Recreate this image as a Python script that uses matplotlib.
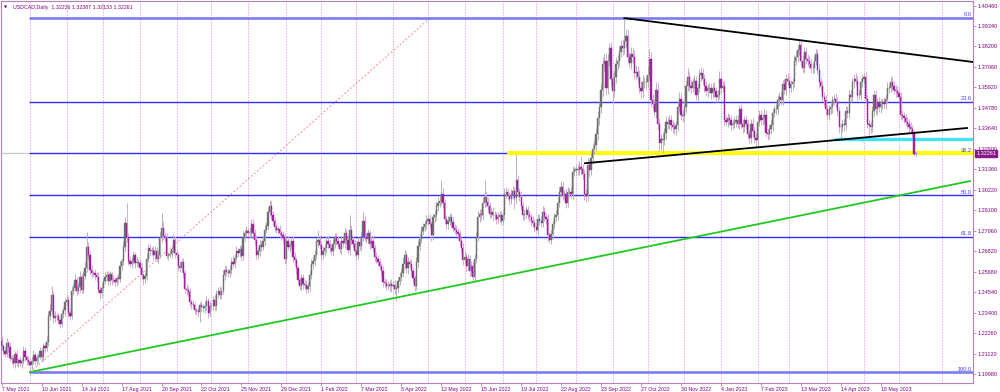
import numpy as np
import matplotlib.pyplot as plt

plt.rcParams['font.family'] = ['Liberation Sans', 'DejaVu Sans']

# daily closes, in pips above 1.0000 (2152 -> 1.2152)
close_2021 = [2152,
    2128, 2112, 2168, 2150, 2088, 2080, 2058, 2110, 2060, 2076,
    2058, 2070, 2128, 2092, 2077, 2063, 2048, 2072, 2106, 2070,
    2088, 2095, 2125, 2090, 2152, 2142, 2178, 2318, 2350, 2440,
    2310, 2322, 2318, 2296, 2278, 2330, 2352, 2398, 2412, 2340,
    2322, 2460, 2478, 2520, 2458, 2480, 2540, 2468, 2545, 2590,
    2705, 2660, 2575, 2562, 2558, 2548, 2540, 2468, 2448, 2478,
    2518, 2540, 2550, 2515, 2552, 2522, 2520, 2510, 2532, 2525,
    2598, 2625, 2705, 2840, 2760, 2625, 2612, 2628, 2660, 2615,
    2620, 2618, 2590, 2548, 2525, 2545, 2640, 2700, 2680, 2688,
    2660, 2682, 2640, 2662, 2758, 2810, 2765, 2758, 2655, 2660,
    2665, 2692, 2745, 2670, 2660, 2600, 2588, 2620, 2562, 2472,
    2468, 2452, 2400, 2388, 2380, 2352, 2348, 2342, 2382, 2370,
    2365, 2378, 2402, 2340, 2378, 2376, 2412, 2378, 2442, 2462,
    2440, 2462, 2548, 2575, 2568, 2560, 2578, 2622, 2612, 2642,
    2680, 2672, 2692, 2652, 2762, 2782, 2795, 2780, 2782, 2832,
    2780, 2745, 2662, 2682, 2718, 2705, 2740, 2800, 2822, 2900,
    2930, 2880, 2850, 2815, 2800, 2805, 2780, 2770, 2752, 2640]
close_2022 = [
    2740, 2705, 2715, 2735, 2650, 2630, 2585, 2520, 2490, 2530,
    2500, 2495, 2470, 2485, 2550, 2610, 2625, 2660, 2730, 2745,
    2715, 2660, 2680, 2700, 2740, 2720, 2700, 2680, 2720, 2760,
    2740, 2720, 2695, 2735, 2725, 2780, 2745, 2690, 2800, 2745,
    2720, 2680, 2660, 2730, 2710, 2760, 2850, 2760, 2750, 2780,
    2720, 2740, 2700, 2650, 2640, 2620, 2600, 2570, 2510, 2505,
    2490, 2485, 2500, 2485, 2495, 2470, 2475, 2515, 2540, 2560,
    2610, 2660, 2585, 2620, 2612, 2570, 2530, 2490, 2620, 2710,
    2750, 2795, 2815, 2830, 2850, 2860, 2830, 2770, 2870, 2880,
    2930, 2950, 2960, 3000, 2950, 2860, 2830, 2850, 2870, 2845,
    2810, 2800, 2790, 2775, 2735, 2700, 2630, 2650, 2600, 2640,
    2570, 2600, 2540, 2640, 2760, 2870, 2890, 2880, 2950, 2985,
    2955, 2930, 2890, 2900, 2880, 2880, 2860, 2870, 2880, 2850,
    2885, 3000, 3010, 2990, 2970, 2995, 3015, 2975, 3075, 3010,
    2985, 2930, 2880, 2890, 2910, 2880, 2870, 2850, 2840, 2815,
    2800, 2860, 2850, 2840, 2900, 2870, 2860, 2770, 2745, 2775,
    2830, 2870, 2880, 2950, 3010, 3040, 2995, 3000, 2950, 3010,
    3010, 3000, 3120, 3130, 3140, 3130, 3150, 3140, 3110, 3000,
    2990, 3160, 3130, 3200, 3250, 3270, 3330, 3420, 3480, 3580,
    3720, 3740, 3590, 3740, 3810, 3640, 3570, 3650, 3720, 3740,
    3790, 3820, 3810, 3850, 3880, 3760, 3730, 3780, 3760, 3670,
    3680, 3650, 3590, 3570, 3620, 3620, 3620, 3660, 3750, 3520,
    3500, 3455, 3580, 3390, 3280, 3305, 3300, 3340, 3400, 3390,
    3410, 3380, 3370, 3360, 3380, 3480, 3530, 3440, 3430, 3480,
    3600, 3650, 3600, 3590, 3620, 3630, 3550, 3590, 3660, 3670,
    3640, 3600, 3570, 3590, 3590, 3560, 3590, 3570, 3540]
close_2023 = [
    3550, 3640, 3590, 3600, 3410, 3400, 3420, 3410, 3385, 3390,
    3400, 3410, 3390, 3470, 3390, 3370, 3410, 3390, 3330, 3310,
    3390, 3350, 3310, 3300, 3400, 3440, 3410, 3420, 3440, 3340,
    3330, 3360, 3380, 3450, 3470, 3470, 3520, 3540, 3520, 3610,
    3580, 3640, 3630, 3590, 3610, 3620, 3740, 3760, 3800, 3830,
    3740, 3700, 3790, 3750, 3740, 3720, 3700, 3700, 3740, 3780,
    3690, 3620, 3600, 3540, 3520, 3470, 3440, 3470, 3480, 3520,
    3530, 3510, 3460, 3370, 3370, 3390, 3380, 3460, 3450, 3550,
    3540, 3620, 3640, 3630, 3550, 3550, 3620, 3640, 3650, 3530,
    3390, 3380, 3370, 3460, 3550, 3470, 3510, 3480, 3500, 3510,
    3500, 3530, 3590, 3590, 3620, 3600, 3580, 3570, 3560, 3540,
    3440, 3430, 3420, 3400, 3390, 3370, 3360, 3340, 3222, 3226]
first_open = 2180

# upper / lower shadow lengths in pips
wick_up_2021 = [
    28, 15, 22, 30, 12, 25, 18, 20, 14, 26, 12, 20, 16, 24, 18, 10, 22, 14, 19, 27,
    15, 20, 12, 25, 18, 16, 22, 30, 28, 35, 47, 20, 25, 18, 22, 15, 26, 20, 24, 30,
    18, 22, 28, 20, 35, 16, 24, 30, 22, 26, 30, 85, 25, 20, 28, 16, 22, 18, 26, 20,
    24, 15, 28, 20, 22, 18, 14, 25, 20, 16, 22, 28, 20, 35, 30, 109, 24, 28, 20, 22,
    18, 26, 15, 22, 28, 20, 16, 30, 24, 20, 18, 22, 28, 20, 25, 30, 86, 40, 22, 26,
    18, 24, 20, 30, 22, 26, 16, 28, 20, 22, 15, 24, 20, 26, 18, 22, 20, 14, 25, 18,
    22, 16, 28, 30, 20, 18, 24, 20, 26, 22, 18, 26, 20, 28, 30, 22, 16, 24, 20, 30,
    22, 28, 20, 26, 24, 30, 22, 28, 20, 34, 26, 30, 22, 25, 20, 28, 18, 24, 30, 22,
    26, 34, 28, 22, 20, 25, 18, 24, 20, 22, 26]
wick_dn_2021 = [
    20, 26, 18, 22, 30, 15, 24, 20, 28, 16, 22, 18, 25, 14, 20, 26, 16, 40, 22, 18,
    24, 20, 26, 15, 22, 18, 20, 16, 24, 20, 18, 28, 22, 26, 20, 24, 18, 22, 30, 20,
    26, 24, 18, 22, 20, 28, 16, 24, 20, 22, 18, 22, 28, 20, 24, 18, 26, 22, 20, 32,
    20, 24, 18, 26, 22, 20, 28, 16, 24, 20, 22, 18, 24, 20, 26, 30, 22, 20, 24, 18,
    26, 20, 22, 28, 24, 30, 20, 22, 18, 24, 20, 26, 22, 18, 24, 20, 28, 22, 26, 20,
    24, 18, 22, 20, 26, 22, 28, 20, 24, 26, 22, 28, 20, 24, 26, 20, 22, 24, 26, 54,
    24, 20, 26, 22, 30, 18, 24, 20, 22, 26, 20, 24, 22, 18, 26, 24, 20, 22, 26, 18,
    24, 20, 26, 22, 28, 20, 24, 22, 18, 26, 22, 28, 30, 24, 20, 26, 22, 18, 24, 20,
    22, 26, 20, 24, 22, 18, 26, 20, 24, 22, 28]
wick_up_2022 = [
    22, 28, 20, 26, 30, 24, 20, 22, 18, 26, 24, 20, 28, 22, 26, 30, 24, 28, 22, 52,
    26, 22, 28, 20, 24, 26, 22, 20, 28, 24, 22, 26, 20, 28, 24, 30, 22, 26, 80, 24,
    26, 22, 20, 28, 24, 30, 51, 24, 22, 26, 20, 28, 24, 22, 26, 20, 24, 18, 26, 22,
    20, 24, 22, 26, 18, 24, 20, 22, 26, 30, 34, 28, 22, 26, 20, 24, 22, 18, 26, 30,
    24, 28, 22, 26, 30, 24, 28, 20, 26, 30, 28, 34, 26, 76, 30, 24, 22, 28, 26, 20,
    24, 22, 28, 20, 26, 22, 24, 28, 20, 26, 22, 26, 20, 28, 30, 34, 26, 28, 30, 94,
    30, 26, 22, 28, 24, 26, 20, 28, 24, 22, 26, 30, 28, 24, 22, 30, 26, 22, 149, 28,
    24, 28, 22, 26, 24, 20, 26, 22, 24, 20, 22, 26, 28, 24, 30, 26, 22, 28, 20, 24,
    26, 22, 28, 30, 26, 34, 28, 24, 30, 26, 24, 28, 30, 26, 22, 28, 30, 58, 24, 26,
    28, 40, 30, 26, 32, 28, 34, 40, 30, 36, 40, 36, 44, 38, 30, 36, 40, 32, 38, 34,
    30, 36, 40, 127, 34, 38, 30, 36, 32, 40, 34, 30, 38, 36, 42, 30, 34, 50, 58, 40,
    36, 30, 40, 44, 34, 30, 36, 28, 32, 26, 30, 26, 28, 32, 24, 30, 36, 28, 26, 32,
    30, 48, 28, 32, 26, 30, 24, 28, 32, 35, 28, 24, 30, 22, 26, 28, 24, 30, 26]
wick_dn_2022 = [
    24, 20, 26, 22, 30, 24, 28, 20, 22, 26, 28, 22, 24, 20, 26, 22, 28, 24, 20, 26,
    22, 26, 20, 24, 28, 22, 26, 20, 24, 22, 26, 22, 24, 28, 20, 24, 22, 26, 28, 24,
    22, 26, 30, 24, 22, 28, 24, 20, 26, 22, 24, 20, 26, 28, 22, 24, 20, 26, 28, 24,
    26, 22, 24, 30, 22, 26, 67, 24, 22, 26, 22, 26, 24, 28, 22, 26, 24, 30, 22, 26,
    24, 22, 26, 20, 28, 24, 22, 30, 26, 24, 28, 24, 26, 22, 30, 28, 24, 26, 22, 28,
    24, 26, 22, 28, 24, 30, 26, 22, 28, 24, 26, 28, 22, 24, 26, 22, 28, 24, 26, 22,
    28, 24, 26, 22, 30, 24, 28, 22, 26, 24, 22, 28, 24, 26, 30, 24, 26, 60, 28, 24,
    26, 22, 28, 24, 22, 26, 24, 28, 22, 26, 24, 28, 22, 26, 24, 22, 28, 30, 17, 26,
    24, 26, 22, 28, 24, 26, 30, 24, 28, 22, 26, 24, 28, 22, 26, 28, 24, 30, 26, 34,
    35, 30, 34, 28, 32, 30, 34, 28, 36, 32, 34, 38, 40, 36, 32, 38, 70, 34, 36, 30,
    34, 30, 36, 32, 38, 34, 30, 36, 32, 34, 30, 36, 32, 38, 34, 30, 36, 32, 34, 38,
    34, 30, 36, 32, 40, 36, 74, 30, 34, 28, 30, 26, 32, 28, 34, 30, 26, 32, 28, 30,
    26, 30, 28, 32, 26, 30, 28, 34, 26, 30, 28, 32, 26, 30, 28, 34, 26, 30, 28]
wick_up_2023 = [
    30, 45, 28, 26, 34, 26, 30, 24, 28, 26, 30, 26, 28, 24, 30, 26, 22, 28, 26, 24,
    28, 30, 24, 26, 30, 28, 24, 26, 30, 28, 26, 30, 28, 24, 26, 30, 28, 26, 30, 24,
    28, 26, 30, 28, 24, 26, 30, 34, 28, 32, 30, 34, 28, 26, 30, 24, 28, 30, 26, 28,
    24, 30, 26, 28, 24, 30, 28, 26, 30, 24, 26, 30, 28, 24, 26, 28, 24, 30, 26, 28,
    30, 26, 28, 30, 24, 28, 26, 24, 28, 30, 26, 28, 24, 30, 26, 28, 24, 30, 26, 24,
    28, 26, 30, 24, 35, 28, 26, 24, 28, 26, 24, 28, 26, 22, 26, 24, 28, 22, 15, 13]
wick_dn_2023 = [
    28, 24, 30, 26, 32, 24, 28, 26, 30, 24, 26, 30, 24, 28, 26, 30, 24, 28, 26, 30,
    26, 28, 30, 38, 26, 24, 28, 26, 30, 24, 28, 24, 26, 30, 24, 28, 26, 30, 24, 28,
    26, 30, 24, 28, 26, 30, 28, 24, 26, 30, 28, 24, 30, 26, 28, 24, 30, 26, 28, 24,
    26, 30, 28, 24, 26, 28, 24, 30, 26, 28, 24, 28, 26, 30, 69, 26, 28, 24, 30, 26,
    28, 24, 30, 26, 28, 24, 30, 26, 28, 24, 26, 55, 30, 24, 28, 26, 30, 24, 28, 26,
    24, 28, 26, 30, 24, 28, 26, 30, 24, 28, 26, 24, 28, 22, 26, 24, 28, 22, 9, 9]

date_labels = ['7 May 2021', '10 Jun 2021', '14 Jul 2021', '17 Aug 2021', '20 Sep 2021',
               '22 Oct 2021', '25 Nov 2021', '29 Dec 2021', '1 Feb 2022', '7 Mar 2022',
               '8 Apr 2022', '12 May 2022', '15 Jun 2022', '19 Jul 2022', '22 Aug 2022',
               '23 Sep 2022', '27 Oct 2022', '30 Nov 2022', '4 Jan 2023', '7 Feb 2023',
               '13 Mar 2023', '14 Apr 2023', '18 May 2023']
label_every = 24
month_starts = [17, 39, 61, 83, 105, 126, 148, 171, 192, 213, 235, 256, 278,
                301, 321, 345, 367, 388, 410, 432, 454, 473, 496, 518, 539, 565]
price_ticks = [1.40460, 1.39340, 1.38200, 1.37060, 1.35920, 1.34780, 1.33640, 1.32500,
               1.31360, 1.30220, 1.29100, 1.27960, 1.26820, 1.25680, 1.24540, 1.23400,
               1.22260, 1.21120, 1.19980]

fib_low, fib_high = 1.2007, 1.3977
fib_levels = [0.0, 23.6, 38.2, 50.0, 61.8, 100.0]
fib_start = 16.5
fib_anchor = [(17, 1.2007), (257.2, 1.3977)]
upper_trend = [(374, 1.3977), (583.4, 1.3733)]
lower_trend = [(350.3, 1.3170), (579.8, 1.3366)]
green_trend = [(17, 1.2009), (581.6, 1.3071)]
yellow_level, yellow_start = 1.3226, 303.5
cyan_level, cyan_start = 1.3305, 500.0
bid = 1.32261
title = 'USDCAD,Daily  1.32226 1.32387 1.32133 1.32261'

# ---- build candles
close = np.array(close_2021 + close_2022 + close_2023) / 1e4 + 1.0
up = np.array(wick_up_2021 + wick_up_2022 + wick_up_2023) / 1e4
dn = np.array(wick_dn_2021 + wick_dn_2022 + wick_dn_2023) / 1e4
opn = np.concatenate([[first_open / 1e4 + 1.0], close[:-1]])
high = np.maximum(opn, close) + up
low = np.minimum(opn, close) - dn
idx = np.arange(len(close))
bull = close >= opn

PURPLE = '#800080'
FRAME = '#b880b8'
XMIN, XMAX = -0.42, 583.4
YMIN, YMAX = 1.19482, 1.40721

fig = plt.figure(figsize=(10, 3.92), dpi=100)
ax = fig.add_axes([0.001, 9 / 392, 0.972, 382 / 392])
ax.set_xlim(XMIN, XMAX)
ax.set_ylim(YMIN, YMAX)

for m in month_starts:
    ax.axvline(m, color='#cc77cc', lw=0.6, ls=(0, (1.2, 2.0)), zorder=0)

ax.axhline(bid, color='#c4c4c4', lw=0.8, zorder=1)

# fibonacci
fx0, fy0 = fib_anchor[0]
fx1, fy1 = fib_anchor[1]
ax.plot([fx0, fx1], [fy0, fy1], color='#ff8c8c', lw=0.8, ls=(0, (1.5, 2.0)), zorder=2)
for lev in fib_levels:
    price = fib_high - (fib_high - fib_low) * lev / 100
    edge = lev in (0.0, 100.0)
    ax.plot([fib_start, XMAX], [price, price], color='#7c7cf6' if edge else '#2f2ff8',
            lw=1.9 if edge else 1.0, zorder=2, solid_capstyle='butt')
    ax.text(XMAX - 0.8, price + 0.0004, f'{lev:.1f}', ha='right', va='bottom',
            fontsize=4.1, color='#4040f0', zorder=6)

# wicks and bodies
ax.vlines(idx[bull], low[bull], high[bull], color='#b4b4b4', lw=0.7, zorder=3)
ax.vlines(idx[~bull], low[~bull], high[~bull], color='#dba8db', lw=0.7, zorder=3)
ax.bar(idx[bull], close[bull] - opn[bull], bottom=opn[bull], width=0.75,
       color='#707070', edgecolor='#707070', lw=0.3, zorder=4)
ax.bar(idx[~bull], close[~bull] - opn[~bull], bottom=opn[~bull], width=0.75,
       color='#a0209f', edgecolor='#a0209f', lw=0.3, zorder=4)

# drawn objects
ax.plot([yellow_start, XMAX], [yellow_level, yellow_level], color='#ffff00', lw=2.9,
        zorder=2.5, solid_capstyle='butt')
ax.plot([cyan_start, XMAX], [cyan_level, cyan_level], color='#3ee4f2', lw=2.4,
        zorder=2.5, solid_capstyle='butt')
ax.plot(*zip(*upper_trend), color='black', lw=1.3, zorder=5)
ax.plot(*zip(*lower_trend), color='black', lw=1.3, zorder=5)
ax.plot(*zip(*green_trend), color='#22c822', lw=1.3, zorder=5)

# axes look
for s in ax.spines.values():
    s.set_color(FRAME)
    s.set_linewidth(0.8)
ax.yaxis.tick_right()
ax.set_yticks(price_ticks)
ax.set_yticklabels([f'{p:.5f}' for p in price_ticks])
ax.set_xticks([i * label_every for i in range(len(date_labels))])
ax.set_xticklabels(date_labels, ha='left')
ax.tick_params(axis='y', direction='out', length=2.5, width=0.6, color=FRAME,
               labelsize=4.0, labelcolor=PURPLE, pad=1)
ax.tick_params(axis='x', direction='out', length=2.5, width=0.6, color=FRAME,
               labelsize=3.8, labelcolor=PURPLE, pad=0.6)

ax.text(1.0035, bid, '1.32261', transform=ax.get_yaxis_transform(),
        ha='left', va='center', fontsize=4.0, color='white', zorder=7,
        bbox=dict(boxstyle='square,pad=0.18', fc='#8a1a8a', ec='#8a1a8a'))

ax.text(0.003, 0.988, '\u25bc', transform=ax.transAxes, ha='left', va='top',
        fontsize=3.0, color=PURPLE, family=['DejaVu Sans'])
ax.text(0.012, 0.99, title, transform=ax.transAxes, ha='left', va='top',
        fontsize=3.8, color=PURPLE)

fig.savefig('out.png', dpi=100)
